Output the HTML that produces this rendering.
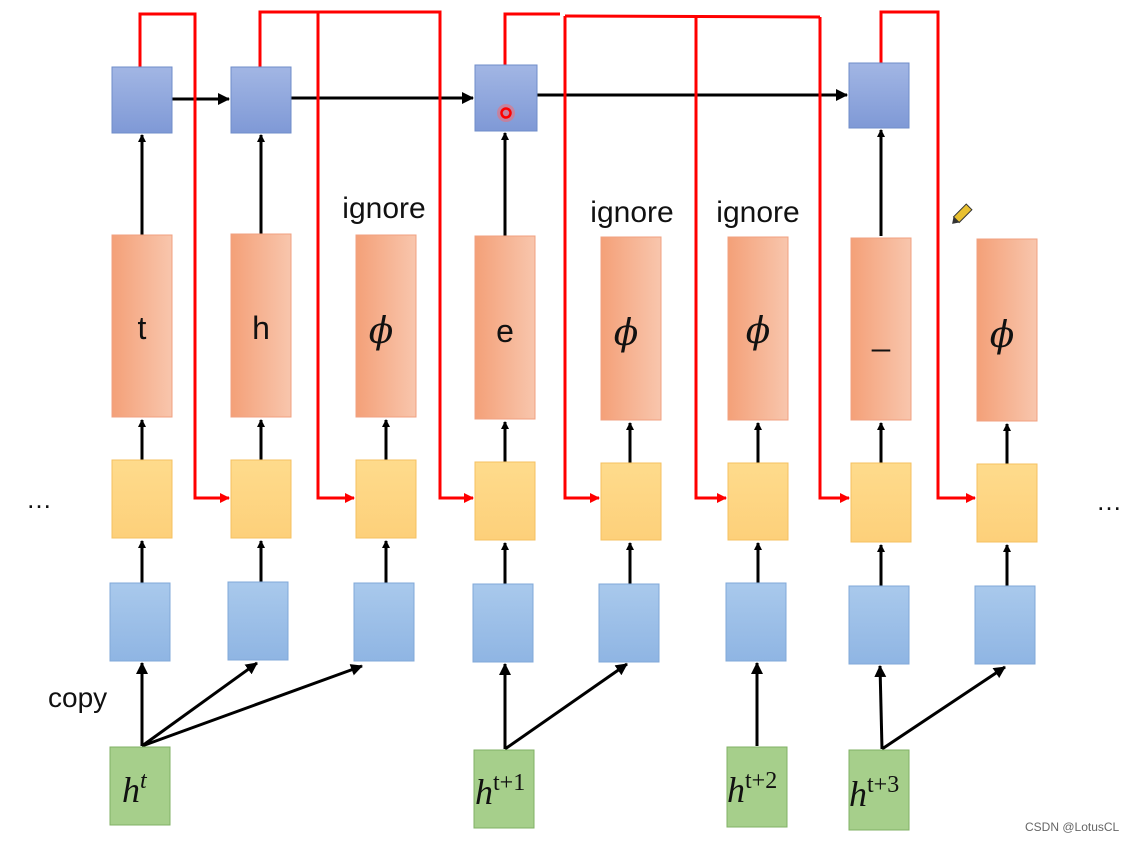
<!DOCTYPE html>
<html><head><meta charset="utf-8"><style>body{margin:0;background:#fff}svg{display:block}</style></head><body>
<svg width="1134" height="841" viewBox="0 0 1134 841" xmlns="http://www.w3.org/2000/svg" font-family="Liberation Sans, sans-serif">
<defs>
<linearGradient id="or" x1="0" x2="1" y1="0" y2="0"><stop offset="0" stop-color="#f4a078"/><stop offset="1" stop-color="#f8c6ad"/></linearGradient>
<linearGradient id="ye" x1="0" x2="0" y1="0" y2="1"><stop offset="0" stop-color="#fedb8c"/><stop offset="1" stop-color="#fdd07a"/></linearGradient>
<linearGradient id="lb" x1="0" x2="0" y1="0" y2="1"><stop offset="0" stop-color="#a9c9ec"/><stop offset="1" stop-color="#8fb5e3"/></linearGradient>
<linearGradient id="tb" x1="0" x2="0" y1="0" y2="1"><stop offset="0" stop-color="#a2b6e4"/><stop offset="1" stop-color="#7f99d6"/></linearGradient>
<marker id="ab" markerWidth="8" markerHeight="8" refX="7" refY="4" orient="auto" markerUnits="userSpaceOnUse" viewBox="0 0 8 8"><path d="M0,0 L8,4 L0,8z" fill="#000"/></marker>
<marker id="ar" markerWidth="10" markerHeight="10" refX="9" refY="5" orient="auto" markerUnits="userSpaceOnUse" viewBox="0 0 10 10"><path d="M0,0 L10,5 L0,10z" fill="#f00"/></marker>
<marker id="ab2" markerWidth="12" markerHeight="12" refX="11" refY="6" orient="auto" markerUnits="userSpaceOnUse" viewBox="0 0 12 12"><path d="M0,0 L12,6 L0,12z" fill="#000"/></marker>
</defs>
<g stroke="#000" stroke-width="3" fill="none">
<!-- top horizontal -->
<line x1="172" y1="99" x2="229" y2="99" marker-end="url(#ab2)"/>
<line x1="291" y1="98" x2="473" y2="98" marker-end="url(#ab2)"/>
<line x1="537" y1="95" x2="847" y2="95" marker-end="url(#ab2)"/>
<!-- orange to top -->
<line x1="142" y1="235" x2="142" y2="135" marker-end="url(#ab)"/>
<line x1="261" y1="234" x2="261" y2="135" marker-end="url(#ab)"/>
<line x1="505" y1="236" x2="505" y2="133" marker-end="url(#ab)"/>
<line x1="881" y1="236" x2="881" y2="130" marker-end="url(#ab)"/>
<!-- yellow to orange -->
<line x1="142" y1="460" x2="142" y2="420" marker-end="url(#ab)"/>
<line x1="261" y1="460" x2="261" y2="420" marker-end="url(#ab)"/>
<line x1="386" y1="460" x2="386" y2="420" marker-end="url(#ab)"/>
<line x1="505" y1="462" x2="505" y2="422" marker-end="url(#ab)"/>
<line x1="630" y1="463" x2="630" y2="423" marker-end="url(#ab)"/>
<line x1="758" y1="463" x2="758" y2="423" marker-end="url(#ab)"/>
<line x1="881" y1="463" x2="881" y2="423" marker-end="url(#ab)"/>
<line x1="1007" y1="464" x2="1007" y2="424" marker-end="url(#ab)"/>
<!-- blue to yellow -->
<line x1="142" y1="583" x2="142" y2="541" marker-end="url(#ab)"/>
<line x1="261" y1="582" x2="261" y2="541" marker-end="url(#ab)"/>
<line x1="386" y1="583" x2="386" y2="541" marker-end="url(#ab)"/>
<line x1="505" y1="584" x2="505" y2="543" marker-end="url(#ab)"/>
<line x1="630" y1="584" x2="630" y2="543" marker-end="url(#ab)"/>
<line x1="758" y1="583" x2="758" y2="543" marker-end="url(#ab)"/>
<line x1="881" y1="586" x2="881" y2="545" marker-end="url(#ab)"/>
<line x1="1007" y1="586" x2="1007" y2="545" marker-end="url(#ab)"/>
<!-- h to blue -->
<line x1="142" y1="746" x2="142" y2="663" marker-end="url(#ab2)"/>
<line x1="142" y1="746" x2="257" y2="663" marker-end="url(#ab2)"/>
<line x1="142" y1="746" x2="362" y2="666" marker-end="url(#ab2)"/>
<line x1="505" y1="749" x2="505" y2="664" marker-end="url(#ab2)"/>
<line x1="505" y1="749" x2="627" y2="664" marker-end="url(#ab2)"/>
<line x1="757" y1="746" x2="757" y2="663" marker-end="url(#ab2)"/>
<line x1="882" y1="749" x2="880" y2="666" marker-end="url(#ab2)"/>
<line x1="882" y1="749" x2="1005" y2="667" marker-end="url(#ab2)"/>
</g>
<!-- red lines -->
<g stroke="#f00" stroke-width="3" fill="none">
<polyline points="140,67 140,14 195,14 195,498 229,498" marker-end="url(#ar)"/>
<polyline points="260,67 260,12 440,12 440,498 473,498" marker-end="url(#ar)"/>
<polyline points="318,12 318,498 354,498" marker-end="url(#ar)"/>
<polyline points="505,65 505,14 560,14"/>
<polyline points="565,16 820,17"/>
<polyline points="565,16 565,498 599,498" marker-end="url(#ar)"/>
<polyline points="696,17 696,498 726,498" marker-end="url(#ar)"/>
<polyline points="820,17 820,498 849,498" marker-end="url(#ar)"/>
<polyline points="881,63 881,12 938,12 938,498 975,498" marker-end="url(#ar)"/>
</g>
<!-- top blue -->
<g fill="url(#tb)" stroke="#6f8cc9" stroke-width="1">
<rect x="112" y="67" width="60" height="66"/><rect x="231" y="67" width="60" height="66"/>
<rect x="475" y="65" width="62" height="66"/><rect x="849" y="63" width="60" height="65"/>
</g>
<circle cx="506" cy="113" r="9" fill="#f66" opacity="0.5"/><circle cx="506" cy="113" r="4.5" fill="none" stroke="#f00" stroke-width="2.5"/>
<!-- orange -->
<g fill="url(#or)" stroke="#f0a080" stroke-width="1">
<rect x="112" y="235" width="60" height="182"/><rect x="231" y="234" width="60" height="183"/>
<rect x="356" y="235" width="60" height="182"/><rect x="475" y="236" width="60" height="183"/>
<rect x="601" y="237" width="60" height="183"/><rect x="728" y="237" width="60" height="183"/>
<rect x="851" y="238" width="60" height="182"/><rect x="977" y="239" width="60" height="182"/>
</g>
<!-- yellow -->
<g fill="url(#ye)" stroke="#f5c060" stroke-width="1">
<rect x="112" y="460" width="60" height="78"/><rect x="231" y="460" width="60" height="78"/>
<rect x="356" y="460" width="60" height="78"/><rect x="475" y="462" width="60" height="78"/>
<rect x="601" y="463" width="60" height="77"/><rect x="728" y="463" width="60" height="77"/>
<rect x="851" y="463" width="60" height="79"/><rect x="977" y="464" width="60" height="78"/>
</g>
<!-- light blue -->
<g fill="url(#lb)" stroke="#80a8d8" stroke-width="1">
<rect x="110" y="583" width="60" height="78"/><rect x="228" y="582" width="60" height="78"/>
<rect x="354" y="583" width="60" height="78"/><rect x="473" y="584" width="60" height="78"/>
<rect x="599" y="584" width="60" height="78"/><rect x="726" y="583" width="60" height="78"/>
<rect x="849" y="586" width="60" height="78"/><rect x="975" y="586" width="60" height="78"/>
</g>
<!-- green -->
<g fill="#a6cf8b" stroke="#80b064" stroke-width="1">
<rect x="110" y="747" width="60" height="78"/><rect x="474" y="750" width="60" height="78"/>
<rect x="727" y="747" width="60" height="80"/><rect x="849" y="750" width="60" height="80"/>
</g>
<!-- labels -->
<g font-size="32" text-anchor="middle" fill="#111">
<text x="142" y="339">t</text><text x="261" y="339">h</text><text x="505" y="342">e</text>
<text x="881" y="345">_</text>
</g>
<g font-family="DejaVu Serif, Liberation Serif, serif" font-style="italic" font-size="36" text-anchor="middle" fill="#111">
<text x="381" y="343">ϕ</text><text x="626" y="345">ϕ</text><text x="758" y="343">ϕ</text><text x="1002" y="347">ϕ</text>
</g>
<g font-size="30" text-anchor="middle" fill="#111">
<text x="384" y="218">ignore</text><text x="632" y="222">ignore</text><text x="758" y="222">ignore</text>
</g>
<text x="48" y="707" font-size="28" fill="#111">copy</text>
<text x="26" y="508" font-size="26" fill="#111">…</text>
<text x="1096" y="510" font-size="26" fill="#111">…</text>
<g font-family="Liberation Serif, serif" font-style="italic" fill="#111">
<text x="122" y="802" font-size="36">h<tspan font-size="24" dy="-14">t</tspan></text>
<text x="475" y="804" font-size="36">h<tspan font-size="24" dy="-14" font-style="normal">t+1</tspan></text>
<text x="727" y="802" font-size="36">h<tspan font-size="24" dy="-14" font-style="normal">t+2</tspan></text>
<text x="849" y="806" font-size="36">h<tspan font-size="24" dy="-14" font-style="normal">t+3</tspan></text>
</g>
<g transform="translate(962,214) rotate(45)"><rect x="-4" y="-10" width="8" height="18" fill="#e8c030" stroke="#333"/><path d="M-4,8 L0,14 L4,8z" fill="#333"/></g>
<text x="1025" y="831" font-size="12" fill="#666">CSDN @LotusCL</text>
</svg>
</body></html>
